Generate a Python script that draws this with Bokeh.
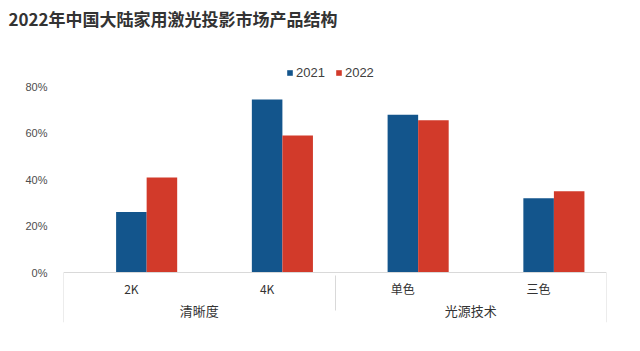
from bokeh.plotting import figure
from bokeh.models import (FactorRange, Range1d, FixedTicker, PrintfTickFormatter, ColumnDataSource,
                          Legend, LegendItem, Title)
from bokeh.transform import dodge
from bokeh.embed import file_html
from bokeh.resources import INLINE

title_text = "2022年中国大陆家用激光投影市场产品结构"
groups = ["清晰度", "清晰度", "光源技术", "光源技术"]
subcats = ["2K", "4K", "单色", "三色"]
series_names = ["2021", "2022"]
v2021 = [26, 74.4, 67.9, 32]
v2022 = [40.9, 58.9, 65.5, 35]
y_ticks = [0, 20, 40, 60, 80]

BLUE = "#13558C"
RED = "#D23A2A"
CJK = "Noto Sans CJK SC"
AXIS_GREY = "#D9D9D9"

factors = list(zip(groups, subcats))
src = ColumnDataSource(dict(x=factors, a=v2021, b=v2022))

xr = FactorRange(*factors, range_padding=0, factor_padding=0, group_padding=0, subgroup_padding=0)
y_start, y_end = -21.5, 91.2
p = figure(width=640, height=351, x_range=xr, y_range=Range1d(y_start, y_end),
           output_backend="svg", toolbar_location=None, title=None,
           min_border_left=63, min_border_right=34, min_border_top=60, min_border_bottom=29)
p.outline_line_color = None
p.grid.visible = False
p.background_fill_color = "white"

bw = 0.225
r1 = p.vbar(x=dodge("x", 0.0, range=xr), top="a", width=bw, source=src, color=BLUE, line_color=None)
r2 = p.vbar(x=dodge("x", bw, range=xr), top="b", width=bw, source=src, color=RED, line_color=None)

# outer edge separators of the category axis (boundaries derived from the data)
n = len(subcats)
edge_x = [0, n]
p.segment(x0=edge_x, x1=edge_x, y0=[0, 0], y1=[y_start, y_start], line_color=AXIS_GREY, line_width=1)

# spacer between the title and the plot area, then the title itself
p.add_layout(Title(text=" ", text_font_size="25px", standoff=0), "above")
p.add_layout(Title(text=title_text, text_font=CJK, text_font_size="17px", text_font_style="bold",
                   text_color="#333333", offset=-55, standoff=0), "above")

# y axis
ya = p.yaxis[0]
ya.ticker = FixedTicker(ticks=y_ticks)
ya.formatter = PrintfTickFormatter(format="%d%%")
ya.axis_line_color = None
ya.major_tick_line_color = None
ya.minor_tick_line_color = None
ya.major_label_text_font = "Liberation Sans"
ya.major_label_text_font_size = "11px"
ya.major_label_text_color = "#4D4D4D"
ya.major_label_standoff = 10

# x axis, drawn at y = 0 inside the frame
xa = p.xaxis[0]
xa.fixed_location = 0
xa.axis_line_color = AXIS_GREY
xa.major_tick_line_color = None
xa.minor_tick_line_color = None
xa.major_label_text_font = CJK
xa.major_label_text_font_size = "12px"
xa.major_label_text_color = "#333333"
xa.group_text_font = CJK
xa.group_text_font_size = "13px"
xa.group_text_color = "#333333"
xa.group_text_font_style = "normal"
xa.separator_line_color = AXIS_GREY
xa.separator_line_width = 1
xa.major_label_standoff = 1

legend = Legend(items=[LegendItem(label=series_names[0], renderers=[r1]),
                       LegendItem(label=series_names[1], renderers=[r2])],
                orientation="horizontal", location=(223, 242),
                border_line_color=None, background_fill_alpha=0,
                glyph_width=7, glyph_height=7, spacing=10, padding=0, margin=0,
                label_text_font="Liberation Sans", label_text_font_size="13px",
                label_text_color="#404040", label_standoff=3)
p.add_layout(legend)

open("out.html", "w").write(file_html(p, INLINE))
